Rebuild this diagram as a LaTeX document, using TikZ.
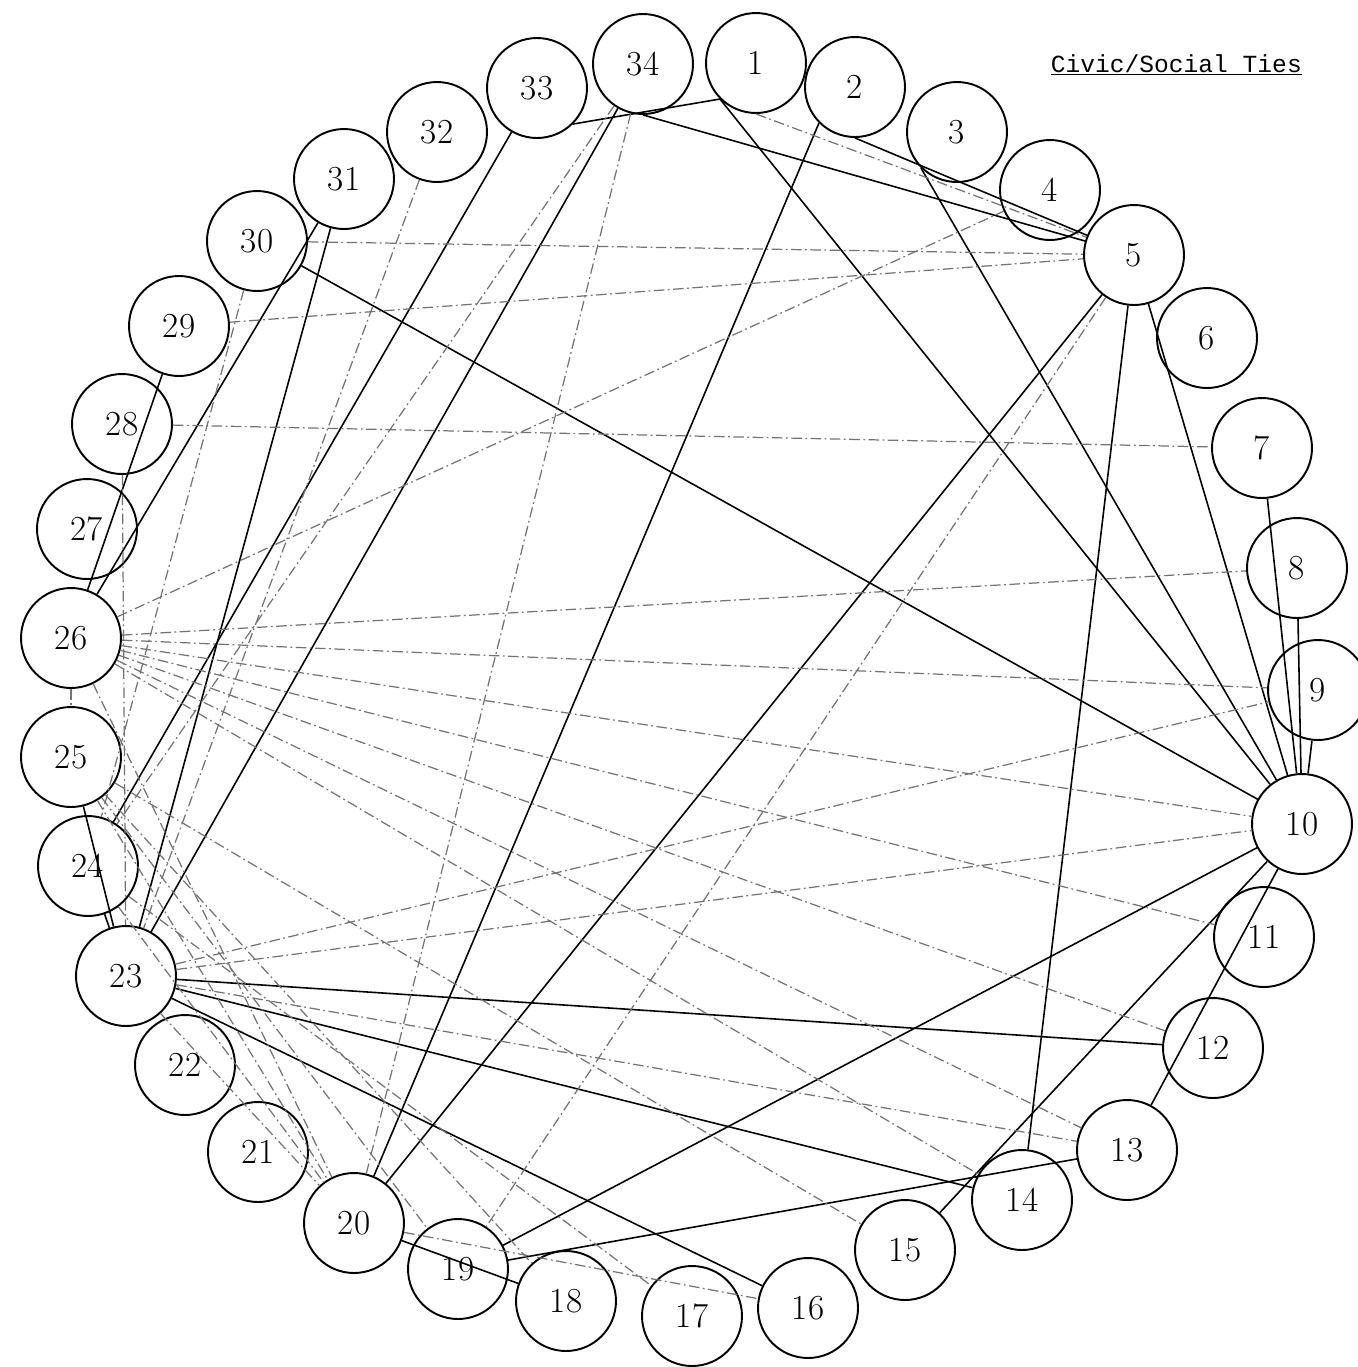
\documentclass[tikz,border=0pt]{standalone}
\usepackage{fontspec}
\newfontfamily\typewriter{Liberation Mono}
\usetikzlibrary{positioning}

\begin{document}
\begin{tikzpicture}[
    x=0.02cm, y=-0.02cm,
    person/.style={draw, circle, line width=1.1pt, minimum size=2cm, inner sep=0pt, font=\fontsize{20}{24}\selectfont},
    tie/.style={line width=0.9pt},
    weaktie/.style={line width=0.7pt, black!55, dash pattern=on 6pt off 2pt on 1pt off 2pt}
]
\useasboundingbox (0,0) rectangle (1357,1367);
\node[anchor=base east, font=\typewriter\fontsize{14}{16}\selectfont] (title) at (1308,72) {\underline{Civic/Social Ties}};
% the 34 members, clockwise from the top
\node[person] (p1) at (756,63) {1};
\node[person] (p2) at (855,87) {2};
\node[person] (p3) at (957,132) {3};
\node[person] (p4) at (1050,190) {4};
\node[person] (p5) at (1134,255) {5};
\node[person] (p6) at (1207,338) {6};
\node[person] (p7) at (1262,448) {7};
\node[person] (p8) at (1297,568) {8};
\node[person] (p9) at (1318,690) {9};
\node[person] (p10) at (1302,824) {10};
\node[person] (p11) at (1264,937) {11};
\node[person] (p12) at (1213,1048) {12};
\node[person] (p13) at (1127,1150) {13};
\node[person] (p14) at (1022,1200) {14};
\node[person] (p15) at (905,1250) {15};
\node[person] (p16) at (808,1308) {16};
\node[person] (p17) at (692,1316) {17};
\node[person] (p18) at (566,1301) {18};
\node[person] (p19) at (458,1269) {19};
\node[person] (p20) at (354,1223) {20};
\node[person] (p21) at (258,1152) {21};
\node[person] (p22) at (185,1065) {22};
\node[person] (p23) at (126,976) {23};
\node[person] (p24) at (88,866) {24};
\node[person] (p25) at (71,757) {25};
\node[person] (p26) at (71,638) {26};
\node[person] (p27) at (87,529) {27};
\node[person] (p28) at (122,424) {28};
\node[person] (p29) at (179,326) {29};
\node[person] (p30) at (257,241) {30};
\node[person] (p31) at (344,179) {31};
\node[person] (p32) at (437,132) {32};
\node[person] (p33) at (537,88) {33};
\node[person] (p34) at (643,64) {34};
% strong ties
\draw[tie] (p33.south east) -- (p1.south west);
\draw[tie] (p34.south) -- (p5);
\draw[tie] (p1.south west) -- (p10);
\draw[tie] (p2.south west) -- (p20);
\draw[tie] (p2.south) -- (p5);
\draw[tie] (p3.south west) -- (p10);
\draw[tie] (p5) -- (p10);
\draw[tie] (p5) -- (p20);
\draw[tie] (p5) -- (p14);
\draw[tie] (p7) -- (p10);
\draw[tie] (p8) -- (p10);
\draw[tie] (p9) -- (p10);
\draw[tie] (p30) -- (p10);
\draw[tie] (p19) -- (p10);
\draw[tie] (p15) -- (p10);
\draw[tie] (p13) -- (p10);
\draw[tie] (p13) -- (p19);
\draw[tie] (p23) -- (p12);
\draw[tie] (p23) -- (p14);
\draw[tie] (p23) -- (p16);
\draw[tie] (p20) -- (p18);
\draw[tie] (p33) -- (p24);
\draw[tie] (p34) -- (p23);
\draw[tie] (p31) -- (p23);
\draw[tie] (p31) -- (p26);
\draw[tie] (p29) -- (p26);
\draw[tie] (p25) -- (p23);
\draw[tie] (p24) -- (p23);
% weak ties
\draw[weaktie] (p1.south) -- (p5);
\draw[weaktie] (p29) -- (p5);
\draw[weaktie] (p30) -- (p5);
\draw[weaktie] (p5) -- (p19);
\draw[weaktie] (p28) -- (p23);
\draw[weaktie] (p32) -- (p23);
\draw[weaktie] (p34) -- (p24);
\draw[weaktie] (p34) -- (p20);
\draw[weaktie] (p30) -- (p24);
\draw[weaktie] (p26) -- (p4);
\draw[weaktie] (p28) -- (p7);
\draw[weaktie] (p26) -- (p8);
\draw[weaktie] (p26) -- (p9);
\draw[weaktie] (p26) -- (p10);
\draw[weaktie] (p26) -- (p11);
\draw[weaktie] (p26) -- (p12);
\draw[weaktie] (p26) -- (p13);
\draw[weaktie] (p26) -- (p14);
\draw[weaktie] (p23) -- (p9);
\draw[weaktie] (p23) -- (p10);
\draw[weaktie] (p23) -- (p13);
\draw[weaktie] (p23) -- (p20);
\draw[weaktie] (p24) -- (p20);
\draw[weaktie] (p25) -- (p20);
\draw[weaktie] (p26) -- (p20);
\draw[weaktie] (p25) -- (p18);
\draw[weaktie] (p25) -- (p19);
\draw[weaktie] (p25) -- (p15);
\draw[weaktie] (p24) -- (p17);
\draw[weaktie] (p20) -- (p16);
\draw[weaktie] (p26) -- (p25);
\end{tikzpicture}
\end{document}
